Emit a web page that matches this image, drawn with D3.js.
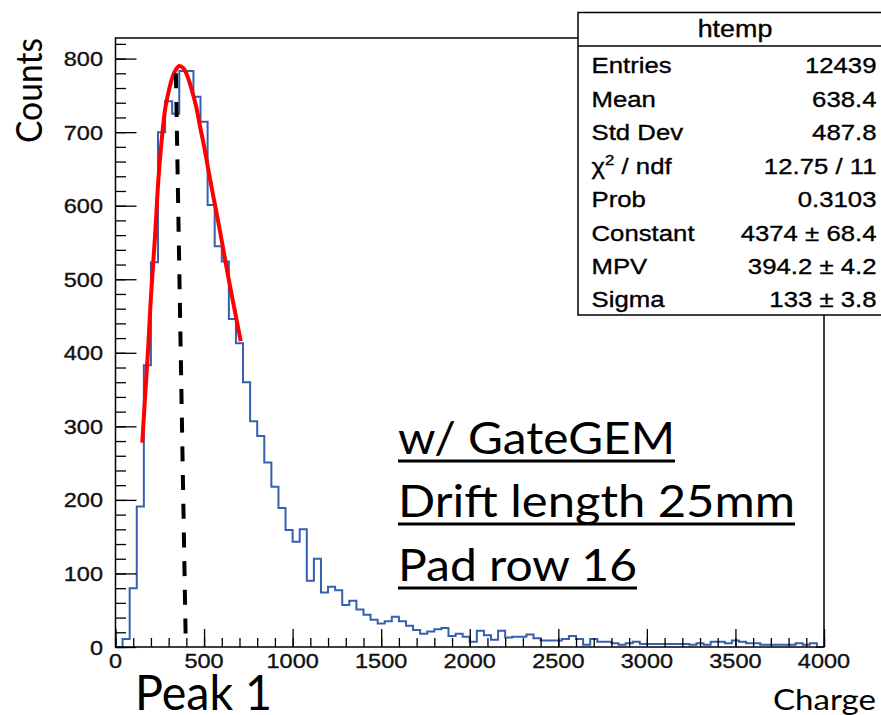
<!DOCTYPE html>
<html><head><meta charset="utf-8">
<script src="https://cdn.jsdelivr.net/npm/d3@7"></script>
<style>body{margin:0;background:#fff}svg{display:block}</style>
</head><body>
<svg id="chart" width="881" height="715"></svg>
<script>
// ---------- data ----------
const binWidth = 40;
const binCounts = [
  0, 11, 80, 191, 383, 523, 700, 742, 725, 783,
  783, 748, 714, 601, 545, 524, 446, 413, 360, 307,
  287, 251, 218, 189, 159, 143, 160, 90, 120, 74,
  82, 77, 57, 63, 51, 44, 37, 32, 35, 41,
  35, 29, 23, 18, 21, 24, 26, 15, 18, 14,
  7, 22, 16, 10, 22, 13, 14, 14, 17, 12,
  9, 9, 9, 11, 15, 11, 3, 11, 7, 7,
  5, 3, 5, 7, 4, 4, 4, 4, 4, 4,
  4, 3, 5, 3, 7, 7, 5, 9, 7, 5,
  5, 3, 3, 3, 3, 3, 5, 3, 5, 0
];
const xTickValues = [0, 500, 1000, 1500, 2000, 2500, 3000, 3500, 4000];
const xTickLabels = ["0", "500", "1000", "1500", "2000", "2500", "3000", "3500", "4000"];
const yTickValues = [0, 100, 200, 300, 400, 500, 600, 700, 800];
const yTickLabels = ["0", "100", "200", "300", "400", "500", "600", "700", "800"];
const fitCharge = [151, 167, 185, 199, 223, 242, 261, 280, 298, 317, 336, 360, 383, 406, 430, 455, 477, 500, 524, 552, 581, 609, 637, 672, 707];
const fitCounts = [278, 340, 409, 472, 558, 635, 690, 731, 753, 771, 783, 790, 787, 776, 758, 735, 708, 681, 649, 613, 577, 540, 503, 459, 416];
const peakLineCharge = [341, 397];
const peakLineCounts = [780, 0];
const statsTitle = "htemp";
const statsLabels = ["Entries", "Mean", "Std Dev", "CHI", "Prob", "Constant", "MPV", "Sigma"];
const statsValues = ["12439", "638.4", "487.8", "12.75 / 11", "0.3103", "4374 \u00b1 68.4", "394.2 \u00b1 4.2", "133 \u00b1 3.8"];
const noteLines = ["w/ GateGEM", "Drift length 25mm", "Pad row 16"];

// ---------- layout ----------
const svg = d3.select("#chart");
const x = d3.scaleLinear().domain([0, 4000]).range([115.5, 824]);
const y = d3.scaleLinear().domain([0, 828]).range([647, 38]);

const sansArial = "'Liberation Sans', Arial, sans-serif";
const sansCal = "Lato, 'Open Sans', sans-serif";
const stretch = 1.12;

// histogram (step outline)
const steps = binCounts.map((c, i) => ({ lo: i * binWidth, c }));
steps.push({ lo: binCounts.length * binWidth, c: 0 });
svg.append("path")
  .datum(steps)
  .attr("fill", "none")
  .attr("stroke", "#3560b0")
  .attr("stroke-width", 2)
  .attr("d", d3.line().x(d => x(d.lo)).y(d => y(d.c)).curve(d3.curveStepAfter));

// axes ticks (pointing inward, ROOT style)
const yMinor = d3.range(0, 828, 20);
const xMinor = d3.range(0, 4001, 100);
const gy = svg.append("g").attr("transform", `translate(${x(0)},0)`);
gy.call(d3.axisLeft(y).tickValues(yMinor).tickSizeInner(-10.5).tickSizeOuter(0).tickFormat(""));
gy.call(g => g.select(".domain").remove());
const gy2 = svg.append("g").attr("transform", `translate(${x(0)},0)`);
gy2.call(d3.axisLeft(y).tickValues(yTickValues).tickSizeInner(-21).tickSizeOuter(0).tickFormat(""));
gy2.call(g => g.select(".domain").remove());
const gx = svg.append("g").attr("transform", `translate(0,${y(0)})`);
gx.call(d3.axisBottom(x).tickValues(xMinor).tickSizeInner(-9).tickSizeOuter(0).tickFormat(""));
gx.call(g => g.select(".domain").remove());
const gx2 = svg.append("g").attr("transform", `translate(0,${y(0)})`);
gx2.call(d3.axisBottom(x).tickValues(xTickValues).tickSizeInner(-18).tickSizeOuter(0).tickFormat(""));
gx2.call(g => g.select(".domain").remove());
svg.selectAll(".tick line").attr("stroke", "#000").attr("stroke-width", 1.3);

// tick labels
svg.append("g").selectAll("text").data(yTickValues).join("text")
  .attr("transform", (d) => `translate(103,${y(d) + 7.5}) scale(${stretch},1)`)
  .attr("text-anchor", "end")
  .attr("font-family", sansArial).attr("font-size", 21).attr("fill", "#111")
  .attr("stroke", "#111").attr("stroke-width", 0.35)
  .text((d, i) => yTickLabels[i]);
svg.append("g").selectAll("text").data(xTickValues).join("text")
  .attr("transform", (d) => `translate(${x(d)},668) scale(${stretch},1)`)
  .attr("text-anchor", "middle")
  .attr("font-family", sansArial).attr("font-size", 21).attr("fill", "#111")
  .attr("stroke", "#111").attr("stroke-width", 0.35)
  .text((d, i) => xTickLabels[i]);

// frame
svg.append("rect")
  .attr("x", x(0)).attr("y", y(828))
  .attr("width", x(4000) - x(0)).attr("height", y(0) - y(828))
  .attr("fill", "none").attr("stroke", "#000").attr("stroke-width", 1.5);

// fit curve
svg.append("path")
  .datum(fitCharge.map((c, i) => [c, fitCounts[i]]))
  .attr("fill", "none").attr("stroke", "#ff0000").attr("stroke-width", 4)
  .attr("d", d3.line().x(d => x(d[0])).y(d => y(d[1])).curve(d3.curveCatmullRom));

// peak marker dashed line
svg.append("path")
  .datum(peakLineCharge.map((c, i) => [c, peakLineCounts[i]]))
  .attr("fill", "none").attr("stroke", "#000").attr("stroke-width", 4)
  .attr("stroke-dasharray", "15,13.7")
  .attr("d", d3.line().x(d => x(d[0])).y(d => y(d[1])));

// stats box
const sb = svg.append("g");
sb.append("rect").attr("x", 578).attr("y", 12.5).attr("width", 330).attr("height", 302.5)
  .attr("fill", "#fff").attr("stroke", "#000").attr("stroke-width", 1.5);
sb.append("line").attr("x1", 578).attr("x2", 881).attr("y1", 46).attr("y2", 46)
  .attr("stroke", "#000").attr("stroke-width", 1.5);
sb.append("text").attr("transform", `translate(735,37) scale(${stretch},1)`)
  .attr("text-anchor", "middle").attr("font-family", sansArial).attr("font-size", 24)
  .attr("stroke", "#000").attr("stroke-width", 0.35)
  .text(statsTitle);
statsLabels.forEach((lab, i) => {
  const by = 73.3 + 33.45 * i;
  const t = sb.append("text").attr("transform", `translate(591.5,${by}) scale(${stretch},1)`)
    .attr("font-family", sansArial).attr("font-size", 23)
    .attr("stroke", "#000").attr("stroke-width", 0.35);
  if (lab === "CHI") {
    t.append("tspan").text("\u03c7");
    t.append("tspan").attr("font-size", 15).attr("dy", -9).text("2");
    t.append("tspan").attr("dy", 9).text(" / ndf");
  } else {
    t.text(lab);
  }
  sb.append("text").attr("transform", `translate(876.5,${by}) scale(${stretch},1)`)
    .attr("text-anchor", "end").attr("font-family", sansArial).attr("font-size", 23)
    .attr("stroke", "#000").attr("stroke-width", 0.35)
    .text(statsValues[i]);
});

// annotation text (slide overlay)
svg.append("text")
  .attr("transform", "translate(42,90.5) rotate(-90)")
  .attr("text-anchor", "middle").attr("font-family", sansCal).attr("font-size", 37)
  .attr("textLength", 105).attr("lengthAdjust", "spacingAndGlyphs")
  .text("Counts");
svg.append("text")
  .attr("x", 135).attr("y", 710)
  .attr("font-family", sansCal).attr("font-size", 49)
  .attr("textLength", 137).attr("lengthAdjust", "spacingAndGlyphs")
  .text("Peak 1");
svg.append("text")
  .attr("x", 773).attr("y", 710)
  .attr("font-family", sansCal).attr("font-size", 29)
  .attr("textLength", 103).attr("lengthAdjust", "spacingAndGlyphs")
  .text("Charge");

const noteWidths = [277, 397, 239];
const noteBase = [454, 517, 581];
noteLines.forEach((s, i) => {
  svg.append("text")
    .attr("x", 398).attr("y", noteBase[i])
    .attr("font-family", sansCal).attr("font-size", 44)
    .attr("textLength", noteWidths[i]).attr("lengthAdjust", "spacingAndGlyphs")
    .text(s);
  svg.append("line")
    .attr("x1", 398).attr("x2", 398 + noteWidths[i])
    .attr("y1", noteBase[i] + 7).attr("y2", noteBase[i] + 7)
    .attr("stroke", "#000").attr("stroke-width", 3);
});
</script>
</body></html>
